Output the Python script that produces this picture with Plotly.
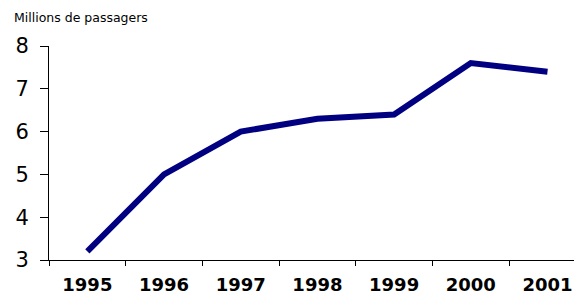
import plotly.graph_objects as go

years = ["1995", "1996", "1997", "1998", "1999", "2000", "2001"]
passengers = [3.2, 5.0, 6.0, 6.3, 6.4, 7.6, 7.4]
y_ticks = [3, 4, 5, 6, 7, 8]

FONT = "DejaVu Sans, Liberation Sans, Arial, sans-serif"

fig = go.Figure()
fig.add_trace(go.Scatter(
    x=years, y=passengers, mode="lines",
    line=dict(color="#000080", width=6),
    hoverinfo="skip",
))

# page body has an 8px margin, so the figure is sized/placed to compensate
fig.update_layout(
    width=574, height=288,
    margin=dict(l=41, r=0, t=38, b=36, autoexpand=False),
    paper_bgcolor="white", plot_bgcolor="white",
    showlegend=False,
    font=dict(family=FONT, color="black"),
    annotations=[dict(
        text="Millions de passagers", xref="paper", yref="paper",
        x=-37/533, y=1 + 28/214, xanchor="left", yanchor="middle",
        showarrow=False, font=dict(size=12.5, color="black", family=FONT),
    )],
)
fig.update_xaxes(
    type="category", range=[-0.5, 6.45], automargin=False,
    showline=True, linecolor="black", linewidth=1,
    ticks="outside", tickson="boundaries", ticklen=5, tickcolor="black",
    showgrid=False, zeroline=False,
    tickfont=dict(size=18, family=FONT, weight="bold"),
    ticklabelstandoff=8,
)
fig.update_yaxes(
    range=[3, 8], tickvals=y_ticks, ticktext=[str(v) for v in y_ticks],
    automargin=False,
    showline=True, linecolor="black", linewidth=1,
    ticks="outside", ticklen=8, tickcolor="black",
    showgrid=False, zeroline=False,
    tickfont=dict(size=21, family=FONT),
    ticklabelstandoff=7,
)

fig.write_html("out.html")
